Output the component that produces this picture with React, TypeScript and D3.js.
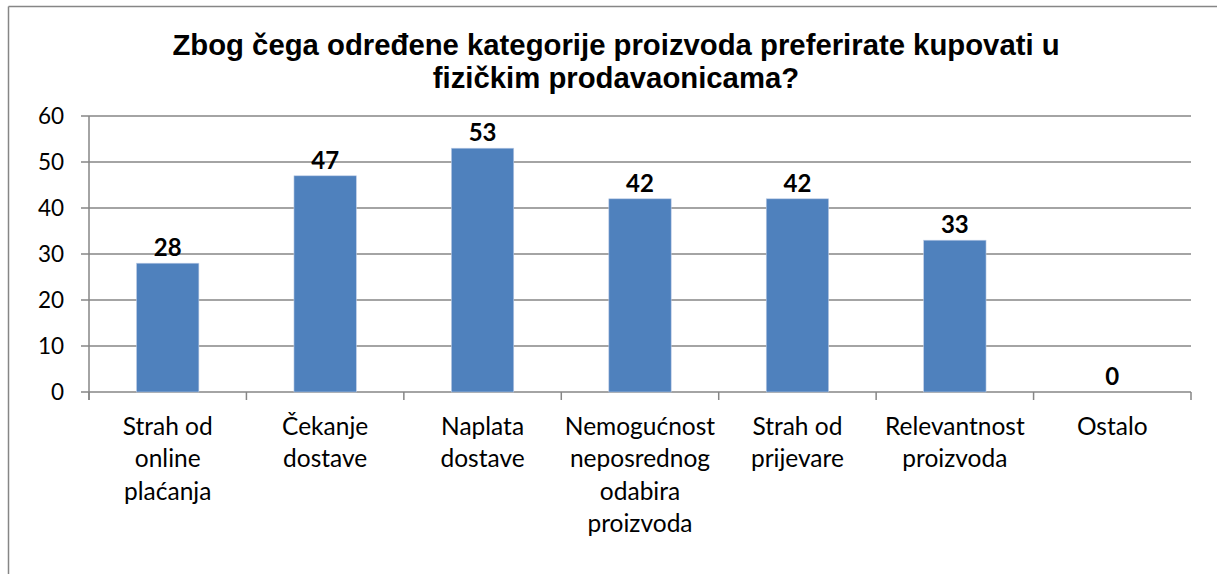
import React from "react";
import * as d3 from "d3";

const categories: string[][] = [
  ["Strah od", "online", "plaćanja"],
  ["Čekanje", "dostave"],
  ["Naplata", "dostave"],
  ["Nemogućnost", "neposrednog", "odabira", "proizvoda"],
  ["Strah od", "prijevare"],
  ["Relevantnost", "proizvoda"],
  ["Ostalo"],
];
const values: number[] = [28, 47, 53, 42, 42, 33, 0];
const yTicks: number[] = [0, 10, 20, 30, 40, 50, 60];
const titleLines: string[] = [
  "Zbog čega određene kategorije proizvoda preferirate kupovati u",
  "fizičkim prodavaonicama?",
];

export default function App() {
  const W = 1217;
  const H = 574;
  const left = 89;
  const right = 1191;
  const top = 116;
  const bottom = 392;
  const grid = "#868686";
  const labelFont = "Lato, 'Open Sans', sans-serif";

  const x = d3
    .scaleBand<number>()
    .domain(values.map((_, i) => i))
    .range([left, right])
    .paddingInner(0.604)
    .paddingOuter(0.302);
  const bandStep = (right - left) / values.length;
  const y = d3.scaleLinear().domain([0, 60]).range([bottom, top]);

  return (
    <svg
      width={W}
      height={H}
      style={{ position: "absolute", left: 0, top: 0, background: "#fff" }}
    >
      <rect x={0} y={0} width={W} height={H} fill="#fff" />
      {/* outer border */}
      <line x1={8.5} y1={6.5} x2={W} y2={6.5} stroke={grid} strokeWidth={1.5} />
      <line x1={8.5} y1={6.5} x2={8.5} y2={H} stroke={grid} strokeWidth={1.5} />

      {/* title */}
      {titleLines.map((t, i) => (
        <text
          key={i}
          x={616}
          y={55 + i * 33}
          textAnchor="middle"
          fontFamily="'Liberation Sans', Arial, sans-serif"
          fontWeight="bold"
          fontSize={29.3}
          fill="#000"
        >
          {t}
        </text>
      ))}

      {/* gridlines + y ticks */}
      {yTicks.map((t) => (
        <g key={t}>
          <line
            x1={81}
            x2={right}
            y1={y(t)}
            y2={y(t)}
            stroke={grid}
            strokeWidth={1.5}
          />
          <text
            x={64}
            y={y(t)}
            dy="0.36em"
            textAnchor="end"
            fontFamily={labelFont}
            fontSize={22.5}
            fill="#000"
          >
            {t}
          </text>
        </g>
      ))}
      {/* y axis */}
      <line x1={left} x2={left} y1={top} y2={bottom + 8} stroke={grid} strokeWidth={1.5} />
      {/* x ticks */}
      {d3.range(values.length + 1).map((i) => (
        <line
          key={i}
          x1={left + i * bandStep}
          x2={left + i * bandStep}
          y1={bottom}
          y2={bottom + 8}
          stroke={grid}
          strokeWidth={1.5}
        />
      ))}

      {/* bars */}
      {values.map((v, i) => (
        <g key={i}>
          {v > 0 && (
            <rect
              x={x(i)}
              y={y(v)}
              width={x.bandwidth()}
              height={bottom - y(v)}
              fill="#4F81BD"
              stroke="#BCCBE5"
              strokeWidth={0.6}
            />
          )}
          <text
            x={(x(i) as number) + x.bandwidth() / 2}
            y={y(v) - 7}
            textAnchor="middle"
            fontFamily={labelFont}
            fontWeight="bold"
            fontSize={24}
            fill="#000"
          >
            {v}
          </text>
        </g>
      ))}

      {/* category labels */}
      {categories.map((lines, i) => (
        <text
          key={i}
          x={(x(i) as number) + x.bandwidth() / 2}
          textAnchor="middle"
          fontFamily={labelFont}
          fontSize={24.5}
          fill="#000"
        >
          {lines.map((l, j) => (
            <tspan key={j} x={(x(i) as number) + x.bandwidth() / 2} y={435 + j * 32.3}>
              {l}
            </tspan>
          ))}
        </text>
      ))}
    </svg>
  );
}
